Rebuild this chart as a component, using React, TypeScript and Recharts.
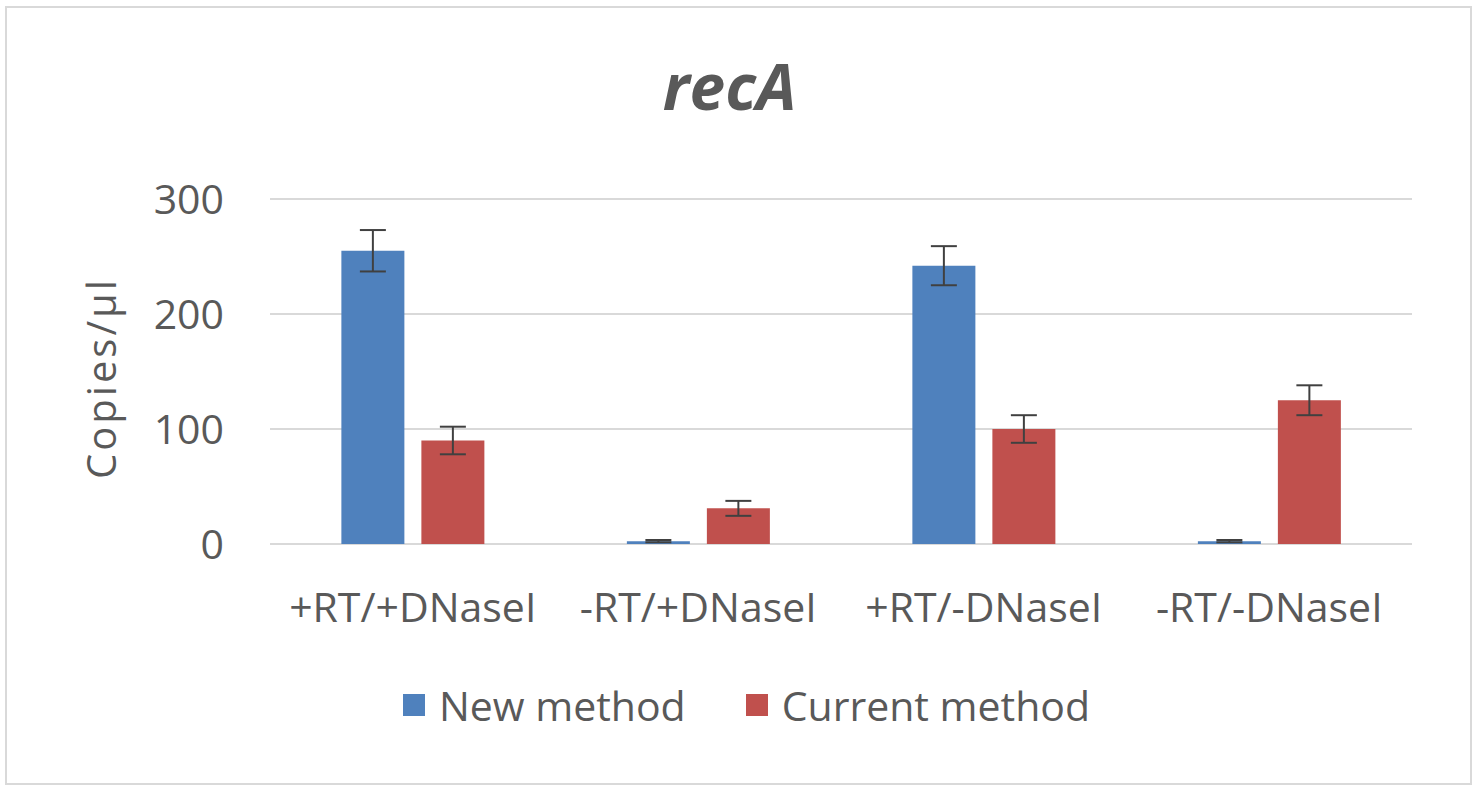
import React from 'react';
import { BarChart, Bar, XAxis, YAxis, CartesianGrid, ErrorBar, Legend } from 'recharts';

const categories = ['+RT/+DNaseI', '-RT/+DNaseI', '+RT/-DNaseI', '-RT/-DNaseI'];
const newMethod = [255, 2.5, 242, 2.5];
const newMethodErr = [18, 1, 17, 1];
const currentMethod = [90, 31, 100, 125];
const currentMethodErr = [12, 6.5, 12, 13];
const yTicks = [0, 100, 200, 300];
const seriesNames = ['New method', 'Current method'];
const titleText = 'recA';
const yAxisTitle = 'Copies/µl';

const data = categories.map((c, i) => ({
  category: c,
  newMethod: newMethod[i],
  newErr: newMethodErr[i],
  current: currentMethod[i],
  currentErr: currentMethodErr[i],
}));

const FONT = '"Open Sans", sans-serif';
const TEXT = '#595959';
const BLUE = '#4f81bd';
const RED = '#c0504d';
const GRID = '#d9d9d9';
const ERR = '#404040';

const renderLegend = (props: any) => {
  const payload = [...(props.payload || [])].sort(
    (a: any, b: any) => seriesNames.indexOf(a.value) - seriesNames.indexOf(b.value)
  );
  return (
    <div
      style={{
        display: 'flex',
        justifyContent: 'center',
        alignItems: 'center',
        height: 50,
        paddingLeft: 20,
        fontFamily: FONT,
        fontSize: 41,
        color: TEXT,
        lineHeight: '50px',
      }}
    >
      {payload.map((entry: any, i: number) => (
        <div key={i} style={{ display: 'flex', alignItems: 'center', marginLeft: i ? 60 : 0 }}>
          <span style={{ display: 'inline-block', width: 22, height: 22, background: entry.color, marginRight: 14 }} />
          <span>{entry.value}</span>
        </div>
      ))}
    </div>
  );
};

const YTitle = () => (
  <text
    x={100}
    y={378}
    transform="rotate(-90 100 378)"
    textAnchor="middle"
    dominantBaseline="central"
    fill={TEXT}
    fontFamily={FONT}
    fontSize={40}
    letterSpacing={3}
  >
    {yAxisTitle}
  </text>
);

export default function App() {
  return (
    <div style={{ position: 'absolute', left: 0, top: 0, width: 1473, height: 785, background: '#fff', fontFamily: FONT }}>
      <div
        style={{
          position: 'absolute',
          left: 5,
          top: 6,
          width: 1463,
          height: 775,
          border: '2px solid #d9d9d9',
        }}
      />
      <div
        style={{
          position: 'absolute',
          left: 0,
          top: 42,
          width: 1473,
          textAlign: 'center',
          fontSize: 64,
          fontWeight: 700,
          fontStyle: 'italic',
          color: TEXT,
          lineHeight: 'normal',
        }}
      >
        <span style={{ position: 'relative', left: -7 }}>{titleText}</span>
      </div>
      <div style={{ position: 'absolute', left: 0, top: 0 }}>
        <BarChart
          width={1473}
          height={785}
          data={data}
          margin={{ top: 199, right: 61, bottom: 41, left: 170 }}
          barCategoryGap="25%"
          barGap={17}
        >
          <CartesianGrid vertical={false} stroke={GRID} strokeWidth={2} />
          <XAxis
            dataKey="category"
            axisLine={false}
            tickLine={false}
            tickSize={0}
            tickMargin={49}
            interval={0}
            height={150}
            tick={{ fill: TEXT, fontSize: 41, fontFamily: FONT }}
          />
          <YAxis
            width={100}
            domain={[0, 300]}
            ticks={yTicks}
            axisLine={false}
            tickLine={false}
            tickSize={0}
            tickMargin={46}
            tick={{ fill: TEXT, fontSize: 41, fontFamily: FONT }}
            label={<YTitle />}
          />
          <Legend
            verticalAlign="bottom"
            content={renderLegend}
            wrapperStyle={{ top: 680, left: 0, width: 1473, bottom: 'auto' }}
          />
          <Bar dataKey="newMethod" name={seriesNames[0]} fill={BLUE} isAnimationActive={false}>
            <ErrorBar dataKey="newErr" width={13} stroke={ERR} strokeWidth={2} direction="y" />
          </Bar>
          <Bar dataKey="current" name={seriesNames[1]} fill={RED} isAnimationActive={false}>
            <ErrorBar dataKey="currentErr" width={13} stroke={ERR} strokeWidth={2} direction="y" />
          </Bar>
        </BarChart>
      </div>
    </div>
  );
}
